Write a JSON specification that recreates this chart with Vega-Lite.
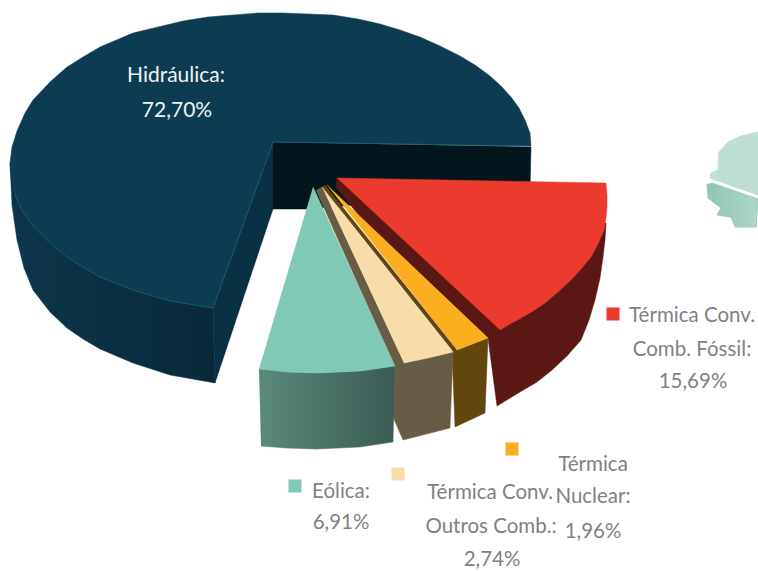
{"$schema":"https://vega.github.io/schema/vega-lite/v6.json","width":758,"height":571,"padding":0,"autosize":{"type":"none"},"background":"white","view":{"stroke":null},
"datasets":{"shapes":[
{"s":"map1","i":0,"x":758,"y":132},{"s":"map1","i":1,"x":741,"y":136},{"s":"map1","i":2,"x":728,"y":142},{"s":"map1","i":3,"x":719,"y":152},{"s":"map1","i":4,"x":718,"y":170},{"s":"map1","i":5,"x":711,"y":173},{"s":"map1","i":6,"x":710,"y":178},{"s":"map1","i":7,"x":758,"y":195},
{"s":"map2","i":0,"x":707,"y":184},{"s":"map2","i":1,"x":708,"y":198},{"s":"map2","i":2,"x":721,"y":208},{"s":"map2","i":3,"x":717,"y":215},{"s":"map2","i":4,"x":731,"y":217},{"s":"map2","i":5,"x":735,"y":227},{"s":"map2","i":6,"x":756,"y":227},{"s":"map2","i":7,"x":758,"y":199},{"s":"map2","i":8,"x":712,"y":183},
{"s":"houter","i":0,"x":10,"y":163},{"s":"houter","i":1,"x":12,"y":205},{"s":"houter","i":2,"x":17,"y":240},{"s":"houter","i":3,"x":24,"y":268},{"s":"houter","i":4,"x":33,"y":290},{"s":"houter","i":5,"x":50,"y":312},{"s":"houter","i":6,"x":67,"y":328},{"s":"houter","i":7,"x":83,"y":339},{"s":"houter","i":8,"x":100,"y":349},{"s":"houter","i":9,"x":133,"y":363},{"s":"houter","i":10,"x":170,"y":375},{"s":"houter","i":11,"x":215,"y":383},{"s":"houter","i":12,"x":213,"y":308},{"s":"houter","i":13,"x":100,"y":250},
{"s":"hgap","i":0,"x":273,"y":142},{"s":"hgap","i":1,"x":273,"y":209},{"s":"hgap","i":2,"x":215,"y":383},{"s":"hgap","i":3,"x":213,"y":308},
{"s":"hinner","i":0,"x":273,"y":142},{"s":"hinner","i":1,"x":531,"y":147},{"s":"hinner","i":2,"x":530,"y":190},{"s":"hinner","i":3,"x":307,"y":209},{"s":"hinner","i":4,"x":273,"y":209},
{"s":"htop","i":0,"x":273,"y":142},{"s":"htop","i":1,"x":213,"y":308},{"s":"htop","i":2,"x":170,"y":301},{"s":"htop","i":3,"x":133,"y":290},{"s":"htop","i":4,"x":100,"y":277},{"s":"htop","i":5,"x":83,"y":267},{"s":"htop","i":6,"x":67,"y":257},{"s":"htop","i":7,"x":50,"y":243},{"s":"htop","i":8,"x":33,"y":226},{"s":"htop","i":9,"x":23,"y":212},{"s":"htop","i":10,"x":15,"y":195},{"s":"htop","i":11,"x":11,"y":178},{"s":"htop","i":12,"x":10,"y":163},{"s":"htop","i":13,"x":12,"y":147},{"s":"htop","i":14,"x":17,"y":131},{"s":"htop","i":15,"x":25,"y":113},{"s":"htop","i":16,"x":33,"y":100},{"s":"htop","i":17,"x":50,"y":82},{"s":"htop","i":18,"x":67,"y":67},{"s":"htop","i":19,"x":83,"y":57},{"s":"htop","i":20,"x":100,"y":47},{"s":"htop","i":21,"x":133,"y":33},{"s":"htop","i":22,"x":158,"y":27},{"s":"htop","i":23,"x":183,"y":21},{"s":"htop","i":24,"x":208,"y":17},{"s":"htop","i":25,"x":233,"y":15},{"s":"htop","i":26,"x":258,"y":13},{"s":"htop","i":27,"x":283,"y":13},{"s":"htop","i":28,"x":308,"y":14},{"s":"htop","i":29,"x":333,"y":15},{"s":"htop","i":30,"x":358,"y":19},{"s":"htop","i":31,"x":380,"y":24},{"s":"htop","i":32,"x":400,"y":30},{"s":"htop","i":33,"x":420,"y":37},{"s":"htop","i":34,"x":440,"y":46},{"s":"htop","i":35,"x":460,"y":56},{"s":"htop","i":36,"x":475,"y":65},{"s":"htop","i":37,"x":490,"y":76},{"s":"htop","i":38,"x":501,"y":86},{"s":"htop","i":39,"x":511,"y":97},{"s":"htop","i":40,"x":519,"y":108},{"s":"htop","i":41,"x":525,"y":120},{"s":"htop","i":42,"x":530,"y":133},{"s":"htop","i":43,"x":531,"y":146},
{"s":"hrim","i":0,"x":531,"y":146},{"s":"hrim","i":1,"x":273,"y":142},{"s":"hrim","i":2,"x":213,"y":308},{"s":"hrim","i":3,"x":170,"y":301},{"s":"hrim","i":4,"x":133,"y":290},{"s":"hrim","i":5,"x":100,"y":277},{"s":"hrim","i":6,"x":83,"y":267},{"s":"hrim","i":7,"x":67,"y":257},{"s":"hrim","i":8,"x":50,"y":243},{"s":"hrim","i":9,"x":33,"y":226},{"s":"hrim","i":10,"x":23,"y":212},{"s":"hrim","i":11,"x":15,"y":195},
{"s":"rwall","i":0,"x":337,"y":178},{"s":"rwall","i":1,"x":336,"y":187},{"s":"rwall","i":2,"x":360,"y":217},{"s":"rwall","i":3,"x":488,"y":338},{"s":"rwall","i":4,"x":497,"y":406},{"s":"rwall","i":5,"x":520,"y":392},{"s":"rwall","i":6,"x":537,"y":382},{"s":"rwall","i":7,"x":552,"y":370},{"s":"rwall","i":8,"x":567,"y":356},{"s":"rwall","i":9,"x":581,"y":340},{"s":"rwall","i":10,"x":589,"y":320},{"s":"rwall","i":11,"x":595,"y":300},{"s":"rwall","i":12,"x":600,"y":278},{"s":"rwall","i":13,"x":603,"y":257},{"s":"rwall","i":14,"x":605,"y":240},{"s":"rwall","i":15,"x":606,"y":223},
{"s":"rtop","i":0,"x":337,"y":178},{"s":"rtop","i":1,"x":606,"y":183},{"s":"rtop","i":2,"x":607,"y":195},{"s":"rtop","i":3,"x":607,"y":207},{"s":"rtop","i":4,"x":606,"y":218},{"s":"rtop","i":5,"x":604,"y":230},{"s":"rtop","i":6,"x":598,"y":244},{"s":"rtop","i":7,"x":591,"y":257},{"s":"rtop","i":8,"x":581,"y":269},{"s":"rtop","i":9,"x":571,"y":280},{"s":"rtop","i":10,"x":558,"y":292},{"s":"rtop","i":11,"x":545,"y":303},{"s":"rtop","i":12,"x":533,"y":311},{"s":"rtop","i":13,"x":521,"y":318},{"s":"rtop","i":14,"x":510,"y":324},{"s":"rtop","i":15,"x":500,"y":330},
{"s":"nwall","i":0,"x":325,"y":185},{"s":"nwall","i":1,"x":457,"y":350},{"s":"nwall","i":2,"x":488,"y":338},{"s":"nwall","i":3,"x":485,"y":413},{"s":"nwall","i":4,"x":455,"y":427},{"s":"nwall","i":5,"x":452,"y":350},{"s":"nwall","i":6,"x":322,"y":187},
{"s":"ntop","i":0,"x":327,"y":185},{"s":"ntop","i":1,"x":488,"y":338},{"s":"ntop","i":2,"x":457,"y":350},
{"s":"bwall","i":0,"x":322,"y":187},{"s":"bwall","i":1,"x":404,"y":363},{"s":"bwall","i":2,"x":453,"y":352},{"s":"bwall","i":3,"x":450,"y":428},{"s":"bwall","i":4,"x":403,"y":440},{"s":"bwall","i":5,"x":393,"y":417},{"s":"bwall","i":6,"x":394,"y":365},{"s":"bwall","i":7,"x":316,"y":190},
{"s":"btop","i":0,"x":322,"y":187},{"s":"btop","i":1,"x":453,"y":352},{"s":"btop","i":2,"x":428,"y":358},{"s":"btop","i":3,"x":404,"y":363},
{"s":"gwall","i":0,"x":259,"y":369},{"s":"gwall","i":1,"x":287,"y":372},{"s":"gwall","i":2,"x":317,"y":373},{"s":"gwall","i":3,"x":360,"y":371},{"s":"gwall","i":4,"x":395,"y":366},{"s":"gwall","i":5,"x":393,"y":442},{"s":"gwall","i":6,"x":360,"y":447},{"s":"gwall","i":7,"x":317,"y":449},{"s":"gwall","i":8,"x":287,"y":448},{"s":"gwall","i":9,"x":261,"y":446},
{"s":"gtop","i":0,"x":313,"y":187},{"s":"gtop","i":1,"x":395,"y":366},{"s":"gtop","i":2,"x":360,"y":371},{"s":"gtop","i":3,"x":317,"y":373},{"s":"gtop","i":4,"x":287,"y":372},{"s":"gtop","i":5,"x":259,"y":369}
],
"swatches":[{"fonte":"Térmica Conv. Comb. Fóssil","x":613,"y":314},{"fonte":"Térmica Nuclear","x":512,"y":449},{"fonte":"Térmica Conv. Outros Comb.","x":398,"y":474},{"fonte":"Eólica","x":295,"y":486}],
"labels":[{"t":"Térmica Conv.","x":692,"y":316},{"t":"Comb. Fóssil:","x":692,"y":350},{"t":"15,69%","x":693,"y":382},{"t":"Eólica:","x":341,"y":492},{"t":"6,91%","x":341,"y":523},{"t":"Térmica Conv.","x":490,"y":493},{"t":"Outros Comb.:","x":491,"y":527},{"t":"2,74%","x":492,"y":560},{"t":"Térmica","x":593,"y":465},{"t":"Nuclear:","x":593,"y":497},{"t":"1,96%","x":593,"y":532}],
"labelsw":[{"t":"Hidráulica:","x":176,"y":76},{"t":"72,70%","x":177,"y":111}]},
"encoding":{"x":{"field":"x","type":"quantitative","scale":{"domain":[0,758]},"axis":null},"y":{"field":"y","type":"quantitative","scale":{"domain":[571,0]},"axis":null},"order":{"field":"i","type":"quantitative"}},
"layer":[
{"data":{"name":"shapes"},"transform":[{"filter":"datum.s=='map1'"}],"mark":{"type":"line","fill":"#bfded5","stroke":"#bfded5","strokeWidth":1}},
{"data":{"name":"shapes"},"transform":[{"filter":"datum.s=='map2'"}],"mark":{"type":"line","stroke":"#9ccbbd","strokeWidth":1,"fill":{"x1":0,"x2":1,"y1":0,"y2":0,"gradient":"linear","stops":[{"offset":0,"color":"#8fc5b5"},{"offset":1,"color":"#aed6ca"}]}}},
{"data":{"name":"shapes"},"transform":[{"filter":"datum.s=='houter'"}],"mark":{"type":"line","stroke":"#0b3044","strokeWidth":0.5,"fill":{"x1":0,"x2":1,"y1":0,"y2":0,"gradient":"linear","stops":[{"offset":0,"color":"#0d3549"},{"offset":0.5,"color":"#0b2f42"},{"offset":1,"color":"#08293a"}]}}},
{"data":{"name":"shapes"},"transform":[{"filter":"datum.s=='hgap'"}],"mark":{"type":"line","fill":"#0a3044","stroke":"#0a3044","strokeWidth":0.5}},
{"data":{"name":"shapes"},"transform":[{"filter":"datum.s=='hinner'"}],"mark":{"type":"line","fill":"#03161e","stroke":"#03161e","strokeWidth":0.5}},
{"data":{"name":"shapes"},"transform":[{"filter":"datum.s=='htop'"}],"mark":{"type":"line","fill":"#0d3c52","stroke":"#0d3c52","strokeWidth":0.5}},
{"data":{"name":"shapes"},"transform":[{"filter":"datum.s=='hrim'"}],"mark":{"type":"line","stroke":"#17596e","strokeWidth":1}},
{"data":{"name":"shapes"},"transform":[{"filter":"datum.s=='rwall'"}],"mark":{"type":"line","fill":"#5a1713","stroke":"#5a1713","strokeWidth":0.5}},
{"data":{"name":"shapes"},"transform":[{"filter":"datum.s=='rtop'"}],"mark":{"type":"line","fill":"#ea3b2e","stroke":"#ea3b2e","strokeWidth":0.5}},
{"data":{"name":"shapes"},"transform":[{"filter":"datum.s=='nwall'"}],"mark":{"type":"line","fill":"#61470e","stroke":"#61470e","strokeWidth":0.5}},
{"data":{"name":"shapes"},"transform":[{"filter":"datum.s=='ntop'"}],"mark":{"type":"line","fill":"#fbae20","stroke":"#fbae20","strokeWidth":0.5}},
{"data":{"name":"shapes"},"transform":[{"filter":"datum.s=='bwall'"}],"mark":{"type":"line","fill":"#695c47","stroke":"#695c47","strokeWidth":0.5}},
{"data":{"name":"shapes"},"transform":[{"filter":"datum.s=='btop'"}],"mark":{"type":"line","fill":"#f8dca9","stroke":"#f8dca9","strokeWidth":0.5}},
{"data":{"name":"shapes"},"transform":[{"filter":"datum.s=='gwall'"}],"mark":{"type":"line","stroke":"#4a7167","strokeWidth":0.5,"fill":{"x1":0,"x2":1,"y1":0,"y2":0,"gradient":"linear","stops":[{"offset":0,"color":"#5b8a7c"},{"offset":1,"color":"#3a5b53"}]}}},
{"data":{"name":"shapes"},"transform":[{"filter":"datum.s=='gtop'"}],"mark":{"type":"line","fill":"#80c9b6","stroke":"#80c9b6","strokeWidth":0.5}},
{"data":{"name":"swatches"},"mark":{"type":"point","shape":"square","filled":true,"size":170,"opacity":1},"encoding":{"color":{"field":"fonte","type":"nominal","legend":null,"scale":{"domain":["Térmica Conv. Comb. Fóssil","Térmica Nuclear","Térmica Conv. Outros Comb.","Eólica"],"range":["#ea3b2e","#fbae20","#f8dca9","#80c9b6"]}}}},
{"data":{"name":"labels"},"mark":{"type":"text","font":"Lato","fontSize":20.5,"color":"#7f8285","align":"center","baseline":"middle"},"encoding":{"text":{"field":"t","type":"nominal"}}},
{"data":{"name":"labelsw"},"mark":{"type":"text","font":"Lato","fontSize":21,"color":"#eef3f5","align":"center","baseline":"middle"},"encoding":{"text":{"field":"t","type":"nominal"}}}
]}
